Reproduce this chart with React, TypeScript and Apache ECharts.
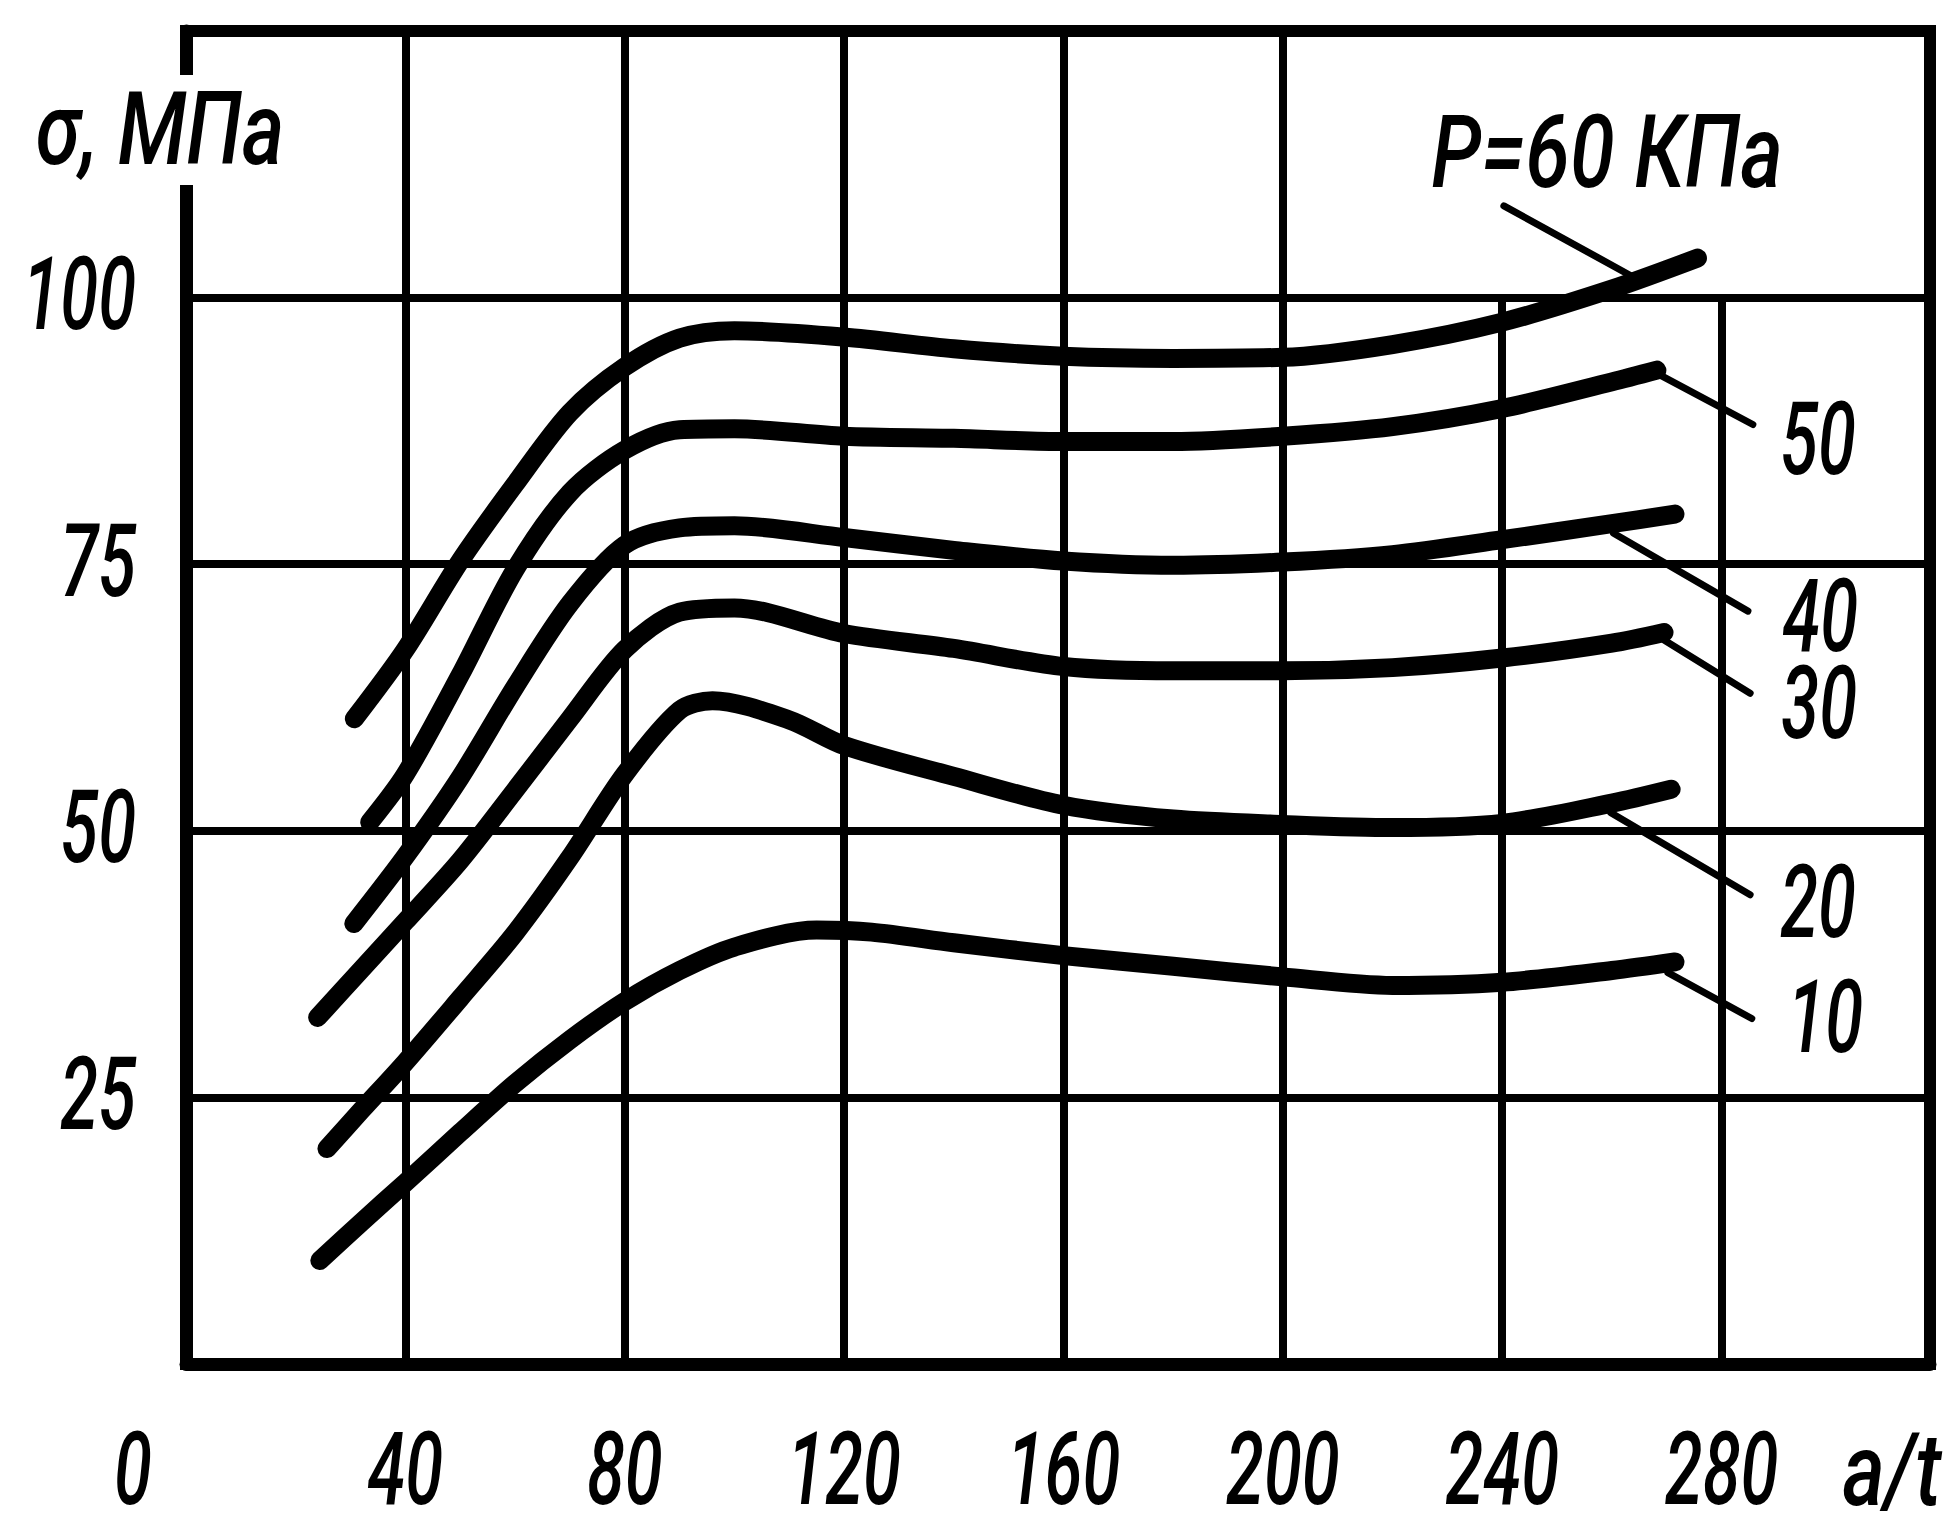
import React, { useEffect, useRef } from 'react';
import * as echarts from 'echarts';

// Tick labels
const xTickLabels = [0, 40, 80, 120, 160, 200, 240, 280];
const yTickLabels = [25, 50, 75, 100];
const xAxisName = 'a/t';
const yAxisName = 'σ, МПа';

// Vertical grid lines and how high each one reaches (the two right ones stop at 100)
const xGridValues = [40, 80, 120, 160, 200, 240, 280];
const xGridTops = [125, 125, 125, 125, 125, 100, 100];

// Curves: [a/t, σ (MPa)] for each pressure P (kPa)
const curveP60 = [[30.7, 60.5], [40, 67], [50, 75.3], [60, 82.5], [70, 89.2], [80, 93.5], [90, 96.2], [100, 96.9], [120, 96.3], [140, 95.2], [160, 94.5], [180, 94.3], [200, 94.4], [220, 95.6], [240, 97.7], [260, 100.8], [275.6, 103.7]];
const curveP50 = [[33.5, 50.8], [40, 55.3], [50, 64.6], [60, 74.5], [70, 81.7], [80, 85.7], [90, 87.6], [100, 87.7], [120, 87], [140, 86.8], [160, 86.5], [180, 86.5], [200, 87], [220, 87.9], [240, 89.6], [260, 92.1], [268.2, 93.2]];
const curveP40 = [[30.6, 41.3], [40, 47.6], [50, 55], [60, 63.5], [70, 71.3], [80, 76.8], [90, 78.4], [100, 78.6], [120, 77.5], [140, 76.3], [160, 75.3], [180, 74.9], [200, 75.2], [220, 75.9], [240, 77.3], [260, 78.8], [271.5, 79.7]];
const curveP30 = [[24, 32.5], [32, 37], [40, 41.5], [50, 47.2], [60, 53.8], [70, 60.5], [80, 67], [90, 70.5], [100, 70.9], [120, 68.5], [140, 67.1], [160, 65.4], [180, 65], [200, 65], [220, 65.3], [240, 66.2], [260, 67.6], [269.5, 68.6]];
const curveP20 = [[25.7, 20.2], [32, 23.8], [40, 28.3], [50, 34.3], [60, 40.4], [70, 47.5], [80, 55.3], [90, 61.3], [96, 62.2], [110, 60.4], [120, 58], [140, 55.1], [160, 52.4], [180, 51.1], [200, 50.6], [220, 50.3], [240, 50.7], [260, 52.6], [270.8, 53.9]];
const curveP10 = [[24.4, 9.7], [32, 13.3], [40, 17], [50, 21.7], [60, 26.3], [70, 30.4], [80, 34], [90, 36.9], [100, 39.1], [115, 40.7], [125, 40.5], [140, 39.5], [160, 38.3], [180, 37.3], [200, 36.3], [220, 35.5], [240, 35.8], [260, 36.9], [271.5, 37.7]];

// Leader lines from curves to their labels (data coordinates)
const leaderP60 = [[240.3, 108.6], [263.3, 102.1]];
const leaderP50 = [[268.2, 92.9], [285.7, 88.1]];
const leaderP40 = [[260.3, 77.9], [284.8, 70.6]];
const leaderP30 = [[269.5, 67.9], [285.2, 62.9]];
const leaderP20 = [[259.8, 51.7], [285.2, 44.0]];
const leaderP10 = [[270.2, 36.7], [285.5, 32.4]];

// Curve labels and their anchors (data coordinates)
const curveLabelTexts = ['P=60 КПа', '50', '40', '30', '20', '10'];
const curveLabelAnchors = [[259.1, 113.6], [297.6, 86.7], [298, 70.1], [297.8, 61.9], [297.6, 43.3], [298.9, 32.5]];

const curves = [curveP60, curveP50, curveP40, curveP30, curveP20, curveP10];
const leaders = [leaderP60, leaderP50, leaderP40, leaderP30, leaderP20, leaderP10];

const FONT = "Roboto, 'Liberation Sans', sans-serif";
const FS = 101;
const SX_NUM = 0.68;
const SX_TXT = 0.8;

function textEl(text: string, x: number, y: number, align: string, sx: number, z = 20) {
  return {
    type: 'text', x, y, scaleX: sx, silent: true, z,
    style: {
      text, fill: '#000', fontFamily: FONT, fontSize: FS, fontStyle: 'italic', fontWeight: 500,
      lineHeight: 76, align, verticalAlign: 'middle', textAlign: align, textVerticalAlign: 'middle',
    },
  };
}

export default function App() {
  const ref = useRef<HTMLDivElement>(null);
  useEffect(() => {
    if (!ref.current) return;
    const chart = echarts.init(ref.current, undefined, { renderer: 'svg' });
    const series: any[] = [];
    // vertical grid lines
    series.push({
      type: 'line', name: 'grid', data: [], silent: true, symbol: 'none', z: 1,
      markLine: {
        silent: true, symbol: ['none', 'none'], label: { show: false }, animation: false,
        lineStyle: { color: '#000', width: 8, type: 'solid' },
        emphasis: { disabled: true },
        data: xGridValues.map((v, i) => [{ coord: [v, 0] }, { coord: [v, xGridTops[i]] }]),
      },
    });
    curves.forEach((c, i) => {
      series.push({
        type: 'line', name: 'P' + i, data: c, smooth: 0.3, symbol: 'none', showSymbol: false,
        lineStyle: { color: '#000', width: 19, cap: 'round', join: 'round' }, z: 3, silent: true,
      });
    });
    leaders.forEach((l, i) => {
      series.push({
        type: 'line', name: 'L' + i, data: l, smooth: false, symbol: 'none', showSymbol: false,
        lineStyle: { color: '#000', width: 7, cap: 'round' }, z: 3, silent: true,
      });
    });
    chart.setOption({
      animation: false,
      backgroundColor: '#fff',
      grid: {
        left: 186, right: 30, top: 31, bottom: 165, show: true, borderColor: '#000', borderWidth: 12,
        backgroundColor: 'transparent', containLabel: false, outerBoundsMode: 'none',
      },
      xAxis: {
        type: 'value', min: 0, max: 318, interval: 40,
        axisLine: { show: true, onZero: false, lineStyle: { color: '#000', width: 13 } },
        axisTick: { show: false },
        splitLine: { show: false },
        axisLabel: { show: false },
      },
      yAxis: {
        type: 'value', min: 0, max: 125, interval: 25,
        axisLine: { show: true, onZero: false, lineStyle: { color: '#000', width: 13 } },
        axisTick: { show: false },
        splitLine: { show: true, showMinLine: false, showMaxLine: false, lineStyle: { color: '#000', width: 8 } },
        axisLabel: { show: false },
      },
      series,
    });

    const px = (p: number[]) => chart.convertToPixel({ gridIndex: 0 }, p) as unknown as number[];
    const origin = px([0, 0]);
    const graphics: any[] = [];
    // x tick labels (0 label sits left of the origin, as in the drawing)
    xTickLabels.forEach((v) => {
      const p = px([v, 0]);
      graphics.push(textEl(String(v), v === 0 ? p[0] - 53 : p[0], p[1] + 106, 'center', SX_NUM));
    });
    graphics.push(textEl(xAxisName, origin[0] + 1706, origin[1] + 106, 'center', SX_TXT));
    // y tick labels
    yTickLabels.forEach((v) => {
      const p = px([0, v]);
      graphics.push(textEl(String(v), p[0] - 50, p[1] - 3, 'right', SX_NUM));
    });
    // y axis name breaking the frame
    const top = px([0, 125]);
    graphics.push({
      type: 'rect', silent: true, z: 15,
      shape: { x: top[0] - 12, y: top[1] + 44, width: 24, height: 110 },
      style: { fill: '#fff' },
    });
    graphics.push(textEl(yAxisName, top[0] - 26, top[1] + 98, 'center', SX_TXT));
    // curve labels
    curveLabelTexts.forEach((t, i) => {
      const p = px(curveLabelAnchors[i]);
      graphics.push(textEl(t, p[0], p[1], 'center', i === 0 ? SX_TXT : SX_NUM));
    });
    chart.setOption({ graphic: { elements: graphics } });
    return () => chart.dispose();
  }, []);
  return <div ref={ref} style={{ position: 'fixed', left: 0, top: 0, width: 1960, height: 1529, background: '#fff' }} />;
}
